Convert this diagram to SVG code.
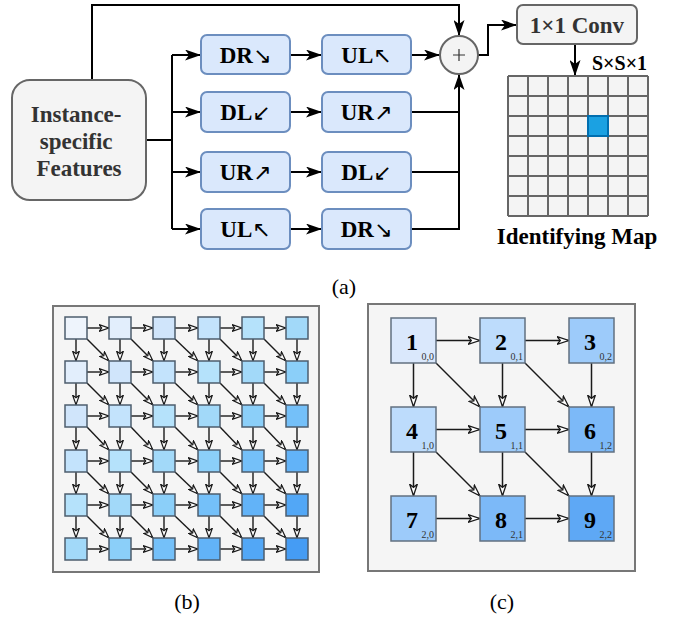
<svg xmlns="http://www.w3.org/2000/svg" xmlns:xlink="http://www.w3.org/1999/xlink" width="683" height="621" viewBox="0 0 683 621">
  <style>
    text { font-family: "Liberation Serif", "Times New Roman", Times, "DejaVu Serif", serif; }
    .bold { font-weight: bold; }
    .arr { font-family: "DejaVu Sans", "DejaVu Serif", sans-serif; font-weight: normal; font-size: 22px; }
    .cap { font-size: 22px; fill: #000; text-anchor: middle; }
    .grey-box { fill: #f4f4f4; stroke: #666; stroke-width: 2; }
    .blue-box { fill: #dae8fc; stroke: #6c8ebf; stroke-width: 2; }
    .box-label { font-size: 23px; fill: #000; text-anchor: middle; }
    .wire { fill: none; stroke: #000; stroke-width: 2; }
    .wire-arrow { fill: none; stroke: #000; stroke-width: 2; marker-end: url(#solid); }
    .panel { fill: #f5f5f5; stroke: #777; stroke-width: 2; }
    .cell { stroke: #4d5d6d; stroke-width: 1.5; }
    .edge { fill: none; stroke: #1a1a1a; stroke-width: 1.4; marker-end: url(#open); }
    .edge-c { fill: none; stroke: #1a1a1a; stroke-width: 1.5; marker-end: url(#open-c); }
    .node-c { stroke: #627080; stroke-width: 1.5; }
    .num { font-size: 24px; fill: #000; text-anchor: middle; }
    .idx { font-size: 10px; fill: #333; text-anchor: end; }
    .d0 { fill: #eef4fc; } .d1 { fill: #e2eefc; } .d2 { fill: #d0e5fb; } .d3 { fill: #c3e3fc; }
    .d4 { fill: #b5e2fb; } .d5 { fill: #a2d9f9; } .d6 { fill: #8bcff9; } .d7 { fill: #74c0f9; }
    .d8 { fill: #62b3f8; } .d9 { fill: #52a7f6; } .d10 { fill: #459cf4; }
  </style>
  <defs>
    <marker id="solid" viewBox="0 0 16 11" refX="16" refY="5.5" markerWidth="16" markerHeight="11" orient="auto" markerUnits="userSpaceOnUse">
      <path d="M0,0 L16,5.5 L0,11 L4,5.5 Z" fill="#000"/>
    </marker>
    <marker id="open" viewBox="0 0 11 8" refX="10.5" refY="4" markerWidth="11" markerHeight="8" orient="auto" markerUnits="userSpaceOnUse">
      <path d="M0.6,0.6 L10.2,4 L0.6,7.4 L3.2,4 Z" fill="#fff" stroke="#1a1a1a" stroke-width="1.2"/>
    </marker>
    <marker id="open-c" viewBox="0 0 13 9" refX="12.5" refY="4.5" markerWidth="13" markerHeight="9" orient="auto" markerUnits="userSpaceOnUse">
      <path d="M0.7,0.7 L12.2,4.5 L0.7,8.3 L3.8,4.5 Z" fill="#fff" stroke="#1a1a1a" stroke-width="1.3"/>
    </marker>
    <!-- one row of horizontal links and one column of vertical links for the 6x6 lattice -->
    <g id="hrow">
      <line class="edge" x1="87" y1="0" x2="109" y2="0"/>
      <line class="edge" x1="131" y1="0" x2="153" y2="0"/>
      <line class="edge" x1="175" y1="0" x2="198" y2="0"/>
      <line class="edge" x1="220" y1="0" x2="242" y2="0"/>
      <line class="edge" x1="264" y1="0" x2="286" y2="0"/>
    </g>
    <g id="vcol">
      <line class="edge" x1="0" y1="339" x2="0" y2="361"/>
      <line class="edge" x1="0" y1="383" x2="0" y2="405"/>
      <line class="edge" x1="0" y1="427" x2="0" y2="450"/>
      <line class="edge" x1="0" y1="472" x2="0" y2="494"/>
      <line class="edge" x1="0" y1="516" x2="0" y2="538"/>
    </g>
  </defs>

  <rect width="683" height="621" fill="#fff"/>

  <!-- (a) spatial propagation module -->
  <g id="connectors-a">
    <path class="wire-arrow" d="M92,80 V5 H459 V36"/>
    <path class="wire" d="M146,140 H172 M172,55 V229"/>
    <path class="wire-arrow" d="M172,55 H201"/>
    <path class="wire-arrow" d="M172,112 H201"/>
    <path class="wire-arrow" d="M172,172 H201"/>
    <path class="wire-arrow" d="M172,229 H201"/>
    <path class="wire-arrow" d="M290,55 H322"/>
    <path class="wire-arrow" d="M290,112 H322"/>
    <path class="wire-arrow" d="M290,172 H322"/>
    <path class="wire-arrow" d="M290,229 H322"/>
    <path class="wire-arrow" d="M411,55 H440"/>
    <path class="wire" d="M411,112 H459 M411,172 H459"/>
    <path class="wire-arrow" d="M411,229 H459 V74"/>
    <path class="wire-arrow" d="M478,55 H488 V25 H517"/>
    <path class="wire-arrow" d="M575,44 V76"/>
  </g>

  <g id="features">
    <rect class="grey-box" x="12" y="80" width="134" height="120" rx="18"/>
    <text class="bold" font-size="23" fill="#333" text-anchor="middle">
      <tspan x="79" y="122">Instance-</tspan>
      <tspan x="79" y="149">specific</tspan>
      <tspan x="79" y="176">Features</tspan>
    </text>
  </g>

  <g id="dr-1"><rect class="blue-box" x="201" y="35" width="89" height="39" rx="6"/><text class="bold box-label" x="245.5" y="63">DR<tspan class="arr">↘</tspan></text></g>
  <g id="ul-1"><rect class="blue-box" x="322" y="35" width="89" height="39" rx="6"/><text class="bold box-label" x="366.5" y="63">UL<tspan class="arr">↖</tspan></text></g>
  <g id="dl-2"><rect class="blue-box" x="201" y="92" width="89" height="40" rx="6"/><text class="bold box-label" x="245.5" y="120">DL<tspan class="arr">↙</tspan></text></g>
  <g id="ur-2"><rect class="blue-box" x="322" y="92" width="89" height="40" rx="6"/><text class="bold box-label" x="366.5" y="120">UR<tspan class="arr">↗</tspan></text></g>
  <g id="ur-3"><rect class="blue-box" x="201" y="152" width="89" height="40" rx="6"/><text class="bold box-label" x="245.5" y="180">UR<tspan class="arr">↗</tspan></text></g>
  <g id="dl-3"><rect class="blue-box" x="322" y="152" width="89" height="40" rx="6"/><text class="bold box-label" x="366.5" y="180">DL<tspan class="arr">↙</tspan></text></g>
  <g id="ul-4"><rect class="blue-box" x="201" y="209" width="89" height="40" rx="6"/><text class="bold box-label" x="245.5" y="237">UL<tspan class="arr">↖</tspan></text></g>
  <g id="dr-4"><rect class="blue-box" x="322" y="209" width="89" height="40" rx="6"/><text class="bold box-label" x="366.5" y="237">DR<tspan class="arr">↘</tspan></text></g>

  <g id="sum">
    <circle cx="459" cy="55" r="19" fill="#f4f4f4" stroke="#666" stroke-width="2"/>
    <path d="M453,55 H465 M459,49 V61" stroke="#333" stroke-width="1.2"/>
  </g>

  <g id="conv">
    <rect class="grey-box" x="517" y="5" width="120" height="39" rx="6"/>
    <text class="bold" x="577" y="33" font-size="23" fill="#333" text-anchor="middle">1×1 Conv</text>
  </g>

  <g id="identifying-map">
    <text class="bold" x="592" y="70" font-size="20" fill="#000">S×S×1</text>
    <rect x="508" y="76" width="140" height="140" fill="#f4f4f4"/>
    <path d="M508,76 H648 M508,96 H648 M508,116 H648 M508,136 H648 M508,156 H648 M508,176 H648 M508,196 H648 M508,216 H648
             M508,76 V216 M528,76 V216 M548,76 V216 M568,76 V216 M588,76 V216 M608,76 V216 M628,76 V216 M648,76 V216"
          fill="none" stroke="#666" stroke-width="2"/>
    <rect x="588" y="116" width="20" height="20" fill="#1ba1e2" stroke="#006eaf" stroke-width="2"/>
    <text class="bold" x="577" y="244" font-size="23" fill="#000" text-anchor="middle">Identifying Map</text>
  </g>

  <text class="cap" x="344" y="294">(a)</text>

  <!-- (b) dense 6x6 lattice -->
  <rect class="panel" x="53" y="306" width="266" height="266"/>
  <g id="connectors-b">
    <use xlink:href="#hrow" y="328"/>
    <use xlink:href="#hrow" y="372"/>
    <use xlink:href="#hrow" y="416"/>
    <use xlink:href="#hrow" y="461"/>
    <use xlink:href="#hrow" y="505"/>
    <use xlink:href="#hrow" y="549"/>
    <use xlink:href="#vcol" x="76"/>
    <use xlink:href="#vcol" x="120"/>
    <use xlink:href="#vcol" x="164"/>
    <use xlink:href="#vcol" x="209"/>
    <use xlink:href="#vcol" x="253"/>
    <use xlink:href="#vcol" x="297"/>
    <line class="edge" x1="87" y1="339" x2="109" y2="361"/>
    <line class="edge" x1="131" y1="339" x2="153" y2="361"/>
    <line class="edge" x1="175" y1="339" x2="198" y2="361"/>
    <line class="edge" x1="220" y1="339" x2="242" y2="361"/>
    <line class="edge" x1="264" y1="339" x2="286" y2="361"/>
    <line class="edge" x1="87" y1="383" x2="109" y2="405"/>
    <line class="edge" x1="131" y1="383" x2="153" y2="405"/>
    <line class="edge" x1="175" y1="383" x2="198" y2="405"/>
    <line class="edge" x1="220" y1="383" x2="242" y2="405"/>
    <line class="edge" x1="264" y1="383" x2="286" y2="405"/>
    <line class="edge" x1="87" y1="427" x2="109" y2="450"/>
    <line class="edge" x1="131" y1="427" x2="153" y2="450"/>
    <line class="edge" x1="175" y1="427" x2="198" y2="450"/>
    <line class="edge" x1="220" y1="427" x2="242" y2="450"/>
    <line class="edge" x1="264" y1="427" x2="286" y2="450"/>
    <line class="edge" x1="87" y1="472" x2="109" y2="494"/>
    <line class="edge" x1="131" y1="472" x2="153" y2="494"/>
    <line class="edge" x1="175" y1="472" x2="198" y2="494"/>
    <line class="edge" x1="220" y1="472" x2="242" y2="494"/>
    <line class="edge" x1="264" y1="472" x2="286" y2="494"/>
    <line class="edge" x1="87" y1="516" x2="109" y2="538"/>
    <line class="edge" x1="131" y1="516" x2="153" y2="538"/>
    <line class="edge" x1="175" y1="516" x2="198" y2="538"/>
    <line class="edge" x1="220" y1="516" x2="242" y2="538"/>
    <line class="edge" x1="264" y1="516" x2="286" y2="538"/>
  </g>
  <g id="b-r0c0"><rect class="cell d0" x="65" y="317" width="22" height="22"/></g>
  <g id="b-r0c1"><rect class="cell d1" x="109" y="317" width="22" height="22"/></g>
  <g id="b-r0c2"><rect class="cell d2" x="153" y="317" width="22" height="22"/></g>
  <g id="b-r0c3"><rect class="cell d3" x="198" y="317" width="22" height="22"/></g>
  <g id="b-r0c4"><rect class="cell d4" x="242" y="317" width="22" height="22"/></g>
  <g id="b-r0c5"><rect class="cell d5" x="286" y="317" width="22" height="22"/></g>
  <g id="b-r1c0"><rect class="cell d1" x="65" y="361" width="22" height="22"/></g>
  <g id="b-r1c1"><rect class="cell d2" x="109" y="361" width="22" height="22"/></g>
  <g id="b-r1c2"><rect class="cell d3" x="153" y="361" width="22" height="22"/></g>
  <g id="b-r1c3"><rect class="cell d4" x="198" y="361" width="22" height="22"/></g>
  <g id="b-r1c4"><rect class="cell d5" x="242" y="361" width="22" height="22"/></g>
  <g id="b-r1c5"><rect class="cell d6" x="286" y="361" width="22" height="22"/></g>
  <g id="b-r2c0"><rect class="cell d2" x="65" y="405" width="22" height="22"/></g>
  <g id="b-r2c1"><rect class="cell d3" x="109" y="405" width="22" height="22"/></g>
  <g id="b-r2c2"><rect class="cell d4" x="153" y="405" width="22" height="22"/></g>
  <g id="b-r2c3"><rect class="cell d5" x="198" y="405" width="22" height="22"/></g>
  <g id="b-r2c4"><rect class="cell d6" x="242" y="405" width="22" height="22"/></g>
  <g id="b-r2c5"><rect class="cell d7" x="286" y="405" width="22" height="22"/></g>
  <g id="b-r3c0"><rect class="cell d3" x="65" y="450" width="22" height="22"/></g>
  <g id="b-r3c1"><rect class="cell d4" x="109" y="450" width="22" height="22"/></g>
  <g id="b-r3c2"><rect class="cell d5" x="153" y="450" width="22" height="22"/></g>
  <g id="b-r3c3"><rect class="cell d6" x="198" y="450" width="22" height="22"/></g>
  <g id="b-r3c4"><rect class="cell d7" x="242" y="450" width="22" height="22"/></g>
  <g id="b-r3c5"><rect class="cell d8" x="286" y="450" width="22" height="22"/></g>
  <g id="b-r4c0"><rect class="cell d4" x="65" y="494" width="22" height="22"/></g>
  <g id="b-r4c1"><rect class="cell d5" x="109" y="494" width="22" height="22"/></g>
  <g id="b-r4c2"><rect class="cell d6" x="153" y="494" width="22" height="22"/></g>
  <g id="b-r4c3"><rect class="cell d7" x="198" y="494" width="22" height="22"/></g>
  <g id="b-r4c4"><rect class="cell d8" x="242" y="494" width="22" height="22"/></g>
  <g id="b-r4c5"><rect class="cell d9" x="286" y="494" width="22" height="22"/></g>
  <g id="b-r5c0"><rect class="cell d5" x="65" y="538" width="22" height="22"/></g>
  <g id="b-r5c1"><rect class="cell d6" x="109" y="538" width="22" height="22"/></g>
  <g id="b-r5c2"><rect class="cell d7" x="153" y="538" width="22" height="22"/></g>
  <g id="b-r5c3"><rect class="cell d8" x="198" y="538" width="22" height="22"/></g>
  <g id="b-r5c4"><rect class="cell d9" x="242" y="538" width="22" height="22"/></g>
  <g id="b-r5c5"><rect class="cell d10" x="286" y="538" width="22" height="22"/></g>
  <text class="cap" x="187" y="609">(b)</text>

  <!-- (c) 3x3 example with indices -->
  <rect class="panel" x="368" y="304" width="267" height="267"/>
  <g id="connectors-c">
    <line class="edge-c" x1="436" y1="340.5" x2="480" y2="340.5"/>
    <line class="edge-c" x1="525" y1="340.5" x2="569" y2="340.5"/>
    <line class="edge-c" x1="436" y1="429.5" x2="480" y2="429.5"/>
    <line class="edge-c" x1="525" y1="429.5" x2="569" y2="429.5"/>
    <line class="edge-c" x1="436" y1="518.5" x2="480" y2="518.5"/>
    <line class="edge-c" x1="525" y1="518.5" x2="569" y2="518.5"/>
    <line class="edge-c" x1="413.5" y1="363" x2="413.5" y2="407"/>
    <line class="edge-c" x1="413.5" y1="452" x2="413.5" y2="496"/>
    <line class="edge-c" x1="502.5" y1="363" x2="502.5" y2="407"/>
    <line class="edge-c" x1="502.5" y1="452" x2="502.5" y2="496"/>
    <line class="edge-c" x1="591.5" y1="363" x2="591.5" y2="407"/>
    <line class="edge-c" x1="591.5" y1="452" x2="591.5" y2="496"/>
    <line class="edge-c" x1="436" y1="363" x2="480" y2="407"/>
    <line class="edge-c" x1="525" y1="363" x2="569" y2="407"/>
    <line class="edge-c" x1="436" y1="452" x2="480" y2="496"/>
    <line class="edge-c" x1="525" y1="452" x2="569" y2="496"/>
  </g>
  <g id="c-1"><rect class="node-c" x="391" y="318" width="45" height="45" fill="#dae8fc"/><text class="bold num" x="412" y="350">1</text><text class="idx" x="434" y="360">0,0</text></g>
  <g id="c-2"><rect class="node-c" x="480" y="318" width="45" height="45" fill="#bddcfc"/><text class="bold num" x="501" y="350">2</text><text class="idx" x="523" y="360">0,1</text></g>
  <g id="c-3"><rect class="node-c" x="569" y="318" width="45" height="45" fill="#9dcbfa"/><text class="bold num" x="590" y="350">3</text><text class="idx" x="612" y="360">0,2</text></g>
  <g id="c-4"><rect class="node-c" x="391" y="407" width="45" height="45" fill="#bddcfc"/><text class="bold num" x="412" y="439">4</text><text class="idx" x="434" y="449">1,0</text></g>
  <g id="c-5"><rect class="node-c" x="480" y="407" width="45" height="45" fill="#9dcbfa"/><text class="bold num" x="501" y="439">5</text><text class="idx" x="523" y="449">1,1</text></g>
  <g id="c-6"><rect class="node-c" x="569" y="407" width="45" height="45" fill="#7cb9f8"/><text class="bold num" x="590" y="439">6</text><text class="idx" x="612" y="449">1,2</text></g>
  <g id="c-7"><rect class="node-c" x="391" y="496" width="45" height="45" fill="#9dcbfa"/><text class="bold num" x="412" y="528">7</text><text class="idx" x="434" y="538">2,0</text></g>
  <g id="c-8"><rect class="node-c" x="480" y="496" width="45" height="45" fill="#7cb9f8"/><text class="bold num" x="501" y="528">8</text><text class="idx" x="523" y="538">2,1</text></g>
  <g id="c-9"><rect class="node-c" x="569" y="496" width="45" height="45" fill="#5ea8f5"/><text class="bold num" x="590" y="528">9</text><text class="idx" x="612" y="538">2,2</text></g>
  <text class="cap" x="502" y="609">(c)</text>
</svg>
